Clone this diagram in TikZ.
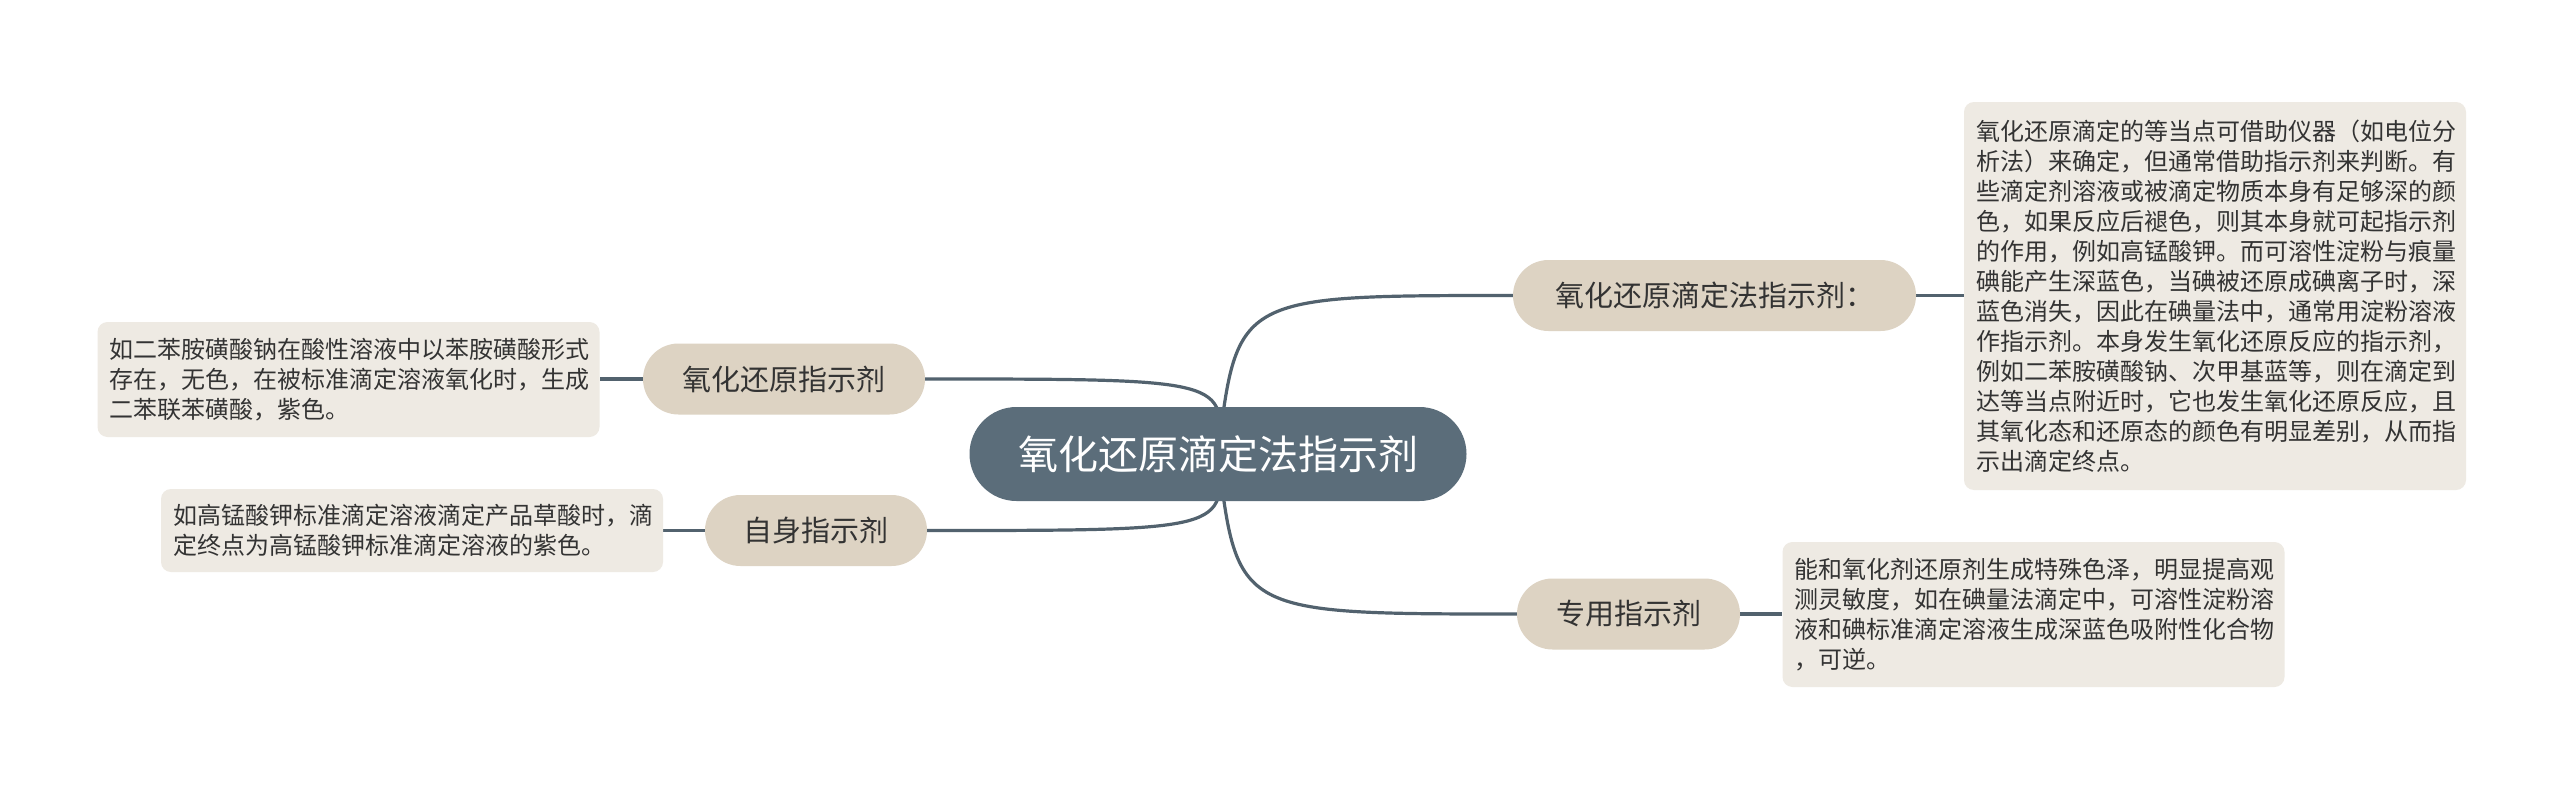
\documentclass[tikz,border=0pt]{standalone}
\usepackage{fontspec}
\setmainfont{Noto Sans CJK SC}
\usetikzlibrary{shapes.misc}
\definecolor{cfill}{HTML}{5B6D7A}
\definecolor{lcol}{HTML}{52626E}
\definecolor{beige}{HTML}{DDD3C3}
\definecolor{boxc}{HTML}{EEEAE3}
\definecolor{txt}{HTML}{333333}
\pgfdeclarelayer{bg}
\pgfsetlayers{bg,main}
\tikzset{
  centernode/.style={rounded rectangle, fill=cfill, text=white, minimum width=497pt, minimum height=94pt, inner sep=0pt, font=\fontsize{40}{44}\selectfont},
  topic/.style={rounded rectangle, fill=beige, text=txt, minimum height=71pt, inner sep=0pt, font=\fontsize{29}{32}\selectfont},
  note/.style={rounded corners=10pt, fill=boxc, text=txt, text width=478pt, align=left, inner xsep=12pt, inner ysep=0pt, font=\fontsize{24}{30}\selectfont},
  conn/.style={draw=lcol, line width=3.2pt},
}
\begin{document}
\begin{tikzpicture}[x=1pt,y=-1pt]
\useasboundingbox (0,0) rectangle (2560,787);
\node[centernode] (c) at (1218,454) {氧化还原滴定法指示剂};
\node[topic, minimum width=403pt] (r1) at (1714.5,295.5) {氧化还原滴定法指示剂：};
\node[topic, minimum width=223pt] (r2) at (1628.5,614) {专用指示剂};
\node[topic, minimum width=282pt] (l1) at (784,379) {氧化还原指示剂};
\node[topic, minimum width=222pt] (l2) at (816,530.5) {自身指示剂};
\node[note, minimum height=388pt] (b1) at (2215,296) {氧化还原滴定的等当点可借助仪器（如电位分\\析法）来确定，但通常借助指示剂来判断。有\\些滴定剂溶液或被滴定物质本身有足够深的颜\\色，如果反应后褪色，则其本身就可起指示剂\\的作用，例如高锰酸钾。而可溶性淀粉与痕量\\碘能产生深蓝色，当碘被还原成碘离子时，深\\蓝色消失，因此在碘量法中，通常用淀粉溶液\\作指示剂。本身发生氧化还原反应的指示剂，\\例如二苯胺磺酸钠、次甲基蓝等，则在滴定到\\达等当点附近时，它也发生氧化还原反应，且\\其氧化态和还原态的颜色有明显差别，从而指\\示出滴定终点。};
\node[note, minimum height=145pt] (b2) at (2033.5,614.5) {能和氧化剂还原剂生成特殊色泽，明显提高观\\测灵敏度，如在碘量法滴定中，可溶性淀粉溶\\液和碘标准滴定溶液生成深蓝色吸附性化合物\\，可逆。};
\node[note, minimum height=115pt] (b3) at (348.5,379.5) {如二苯胺磺酸钠在酸性溶液中以苯胺磺酸形式\\存在，无色，在被标准滴定溶液氧化时，生成\\二苯联苯磺酸，紫色。};
\node[note, minimum height=83pt] (b4) at (412,530.5) {如高锰酸钾标准滴定溶液滴定产品草酸时，滴\\定终点为高锰酸钾标准滴定溶液的紫色。};
\begin{pgfonlayer}{bg}
\fill[white] (0,0) rectangle (2560,787);
\draw[conn] (c.center) .. controls (1237,295.5) .. (r1.west);
\draw[conn] (c.center) .. controls (1237,614) .. (r2.west);
\draw[conn] (c.center) .. controls (1226,379) .. (l1.east);
\draw[conn] (c.center) .. controls (1226,530.5) .. (l2.east);
\draw[conn] (r1.east) -- (b1.west |- r1.east);
\draw[conn] (r2.east) -- (b2.west |- r2.east);
\draw[conn] (l1.west) -- (b3.east |- l1.west);
\draw[conn] (l2.west) -- (b4.east |- l2.west);
\end{pgfonlayer}
\end{tikzpicture}
\end{document}
